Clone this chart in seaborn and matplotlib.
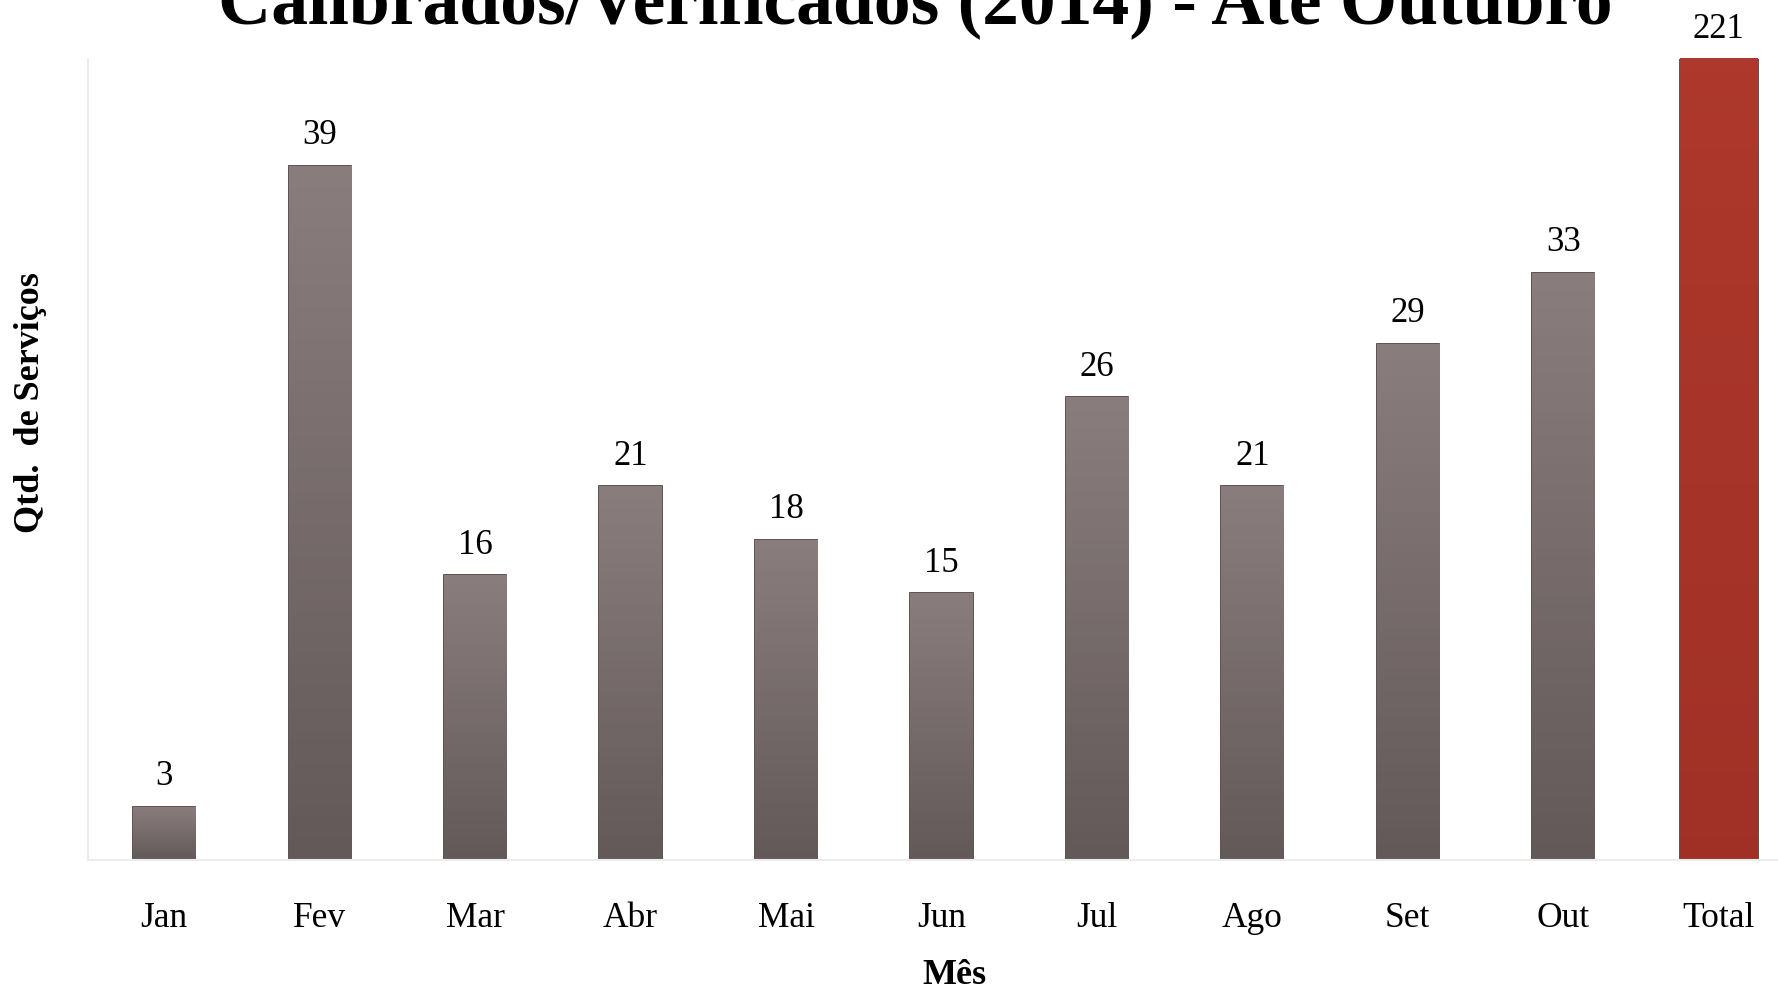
import numpy as np
import pandas as pd
import matplotlib
matplotlib.use("Agg")
import matplotlib.pyplot as plt
import seaborn as sns

meses = ['Jan', 'Fev', 'Mar', 'Abr', 'Mai', 'Jun', 'Jul', 'Ago', 'Set', 'Out']
servicos = [3, 39, 16, 21, 18, 15, 26, 21, 29, 33]
total_label = 'Total'
total_valor = 221

ordem = meses + [total_label]
df_mes = pd.DataFrame({'mes': meses, 'qtd': servicos})
df_tot = pd.DataFrame({'mes': [total_label], 'qtd': [total_valor]})

sns.set_style('white')
plt.rcParams['font.family'] = ['Liberation Serif', 'DejaVu Serif']
plt.rcParams['text.color'] = 'black'
plt.rcParams['xtick.color'] = 'black'

fig = plt.figure(figsize=(17.78, 9.91), dpi=100)
ax = fig.add_axes([0.0495, 0.1322, 0.960, 0.8083])

sns.barplot(data=df_mes, x='mes', y='qtd', order=ordem, color='#766b6b',
            width=0.4, saturation=1, ax=ax)
sns.barplot(data=df_tot, x='mes', y='qtd', order=ordem, color='#a63428',
            width=0.5, saturation=1, ax=ax)

ymax = 45
ax.set_ylim(0, ymax)
ax.set_xlim(-0.49, 10.49)

# gradiente vertical em cada barra
for p in ax.patches:
    x0, w = p.get_x(), p.get_width()
    h = min(p.get_height(), ymax)
    fc = p.get_facecolor()
    if fc[0] > 0.55:
        c_top, c_bot = np.array([0.68, 0.22, 0.17]), np.array([0.63, 0.19, 0.15])
    else:
        c_top, c_bot = np.array([0.54, 0.49, 0.49]), np.array([0.39, 0.35, 0.35])
    t = np.linspace(1, 0, 64)[:, None, None]
    grad = c_top * t + c_bot * (1 - t)
    im = ax.imshow(grad, extent=[x0, x0 + w, 0, h], aspect='auto',
                   origin='upper', zorder=p.get_zorder() + 0.1)
    im.set_clip_path(p)
    p.set_edgecolor('#3e3434')
    p.set_linewidth(1.2)
ax.set_ylim(0, ymax)
ax.set_xlim(-0.49, 10.49)

valores = servicos + [total_valor]
for i, v in enumerate(valores):
    ax.annotate(str(v), (i, min(v, ymax)), xytext=(0, 21.5), textcoords='offset points',
                ha='center', va='center', fontsize=25, color='black',
                annotation_clip=False)

ax.set_yticks([])
ax.set_xlabel('')
ax.set_ylabel('')
ax.tick_params(axis='x', length=0, pad=30, labelsize=25.5, labelcolor='black')
for s in ['top', 'right']:
    ax.spines[s].set_visible(False)
for s in ['left', 'bottom']:
    ax.spines[s].set_color('#ececec')
    ax.spines[s].set_linewidth(1.5)

fig.text(0.5148, 0.977, 'Calibrados/Verificados (2014) - Até Outubro',
         ha='center', va='baseline', fontsize=53, fontweight='bold', color='black')
fig.text(0.0172, 0.594, 'Qtd.  de Serviços', rotation=90, ha='center', va='center',
         fontsize=26, fontweight='bold', color='black')
fig.text(0.537, 0.016, 'Mês', ha='center', va='center', fontsize=26,
         fontweight='bold', color='black')

plt.savefig('out.png', dpi=100)
